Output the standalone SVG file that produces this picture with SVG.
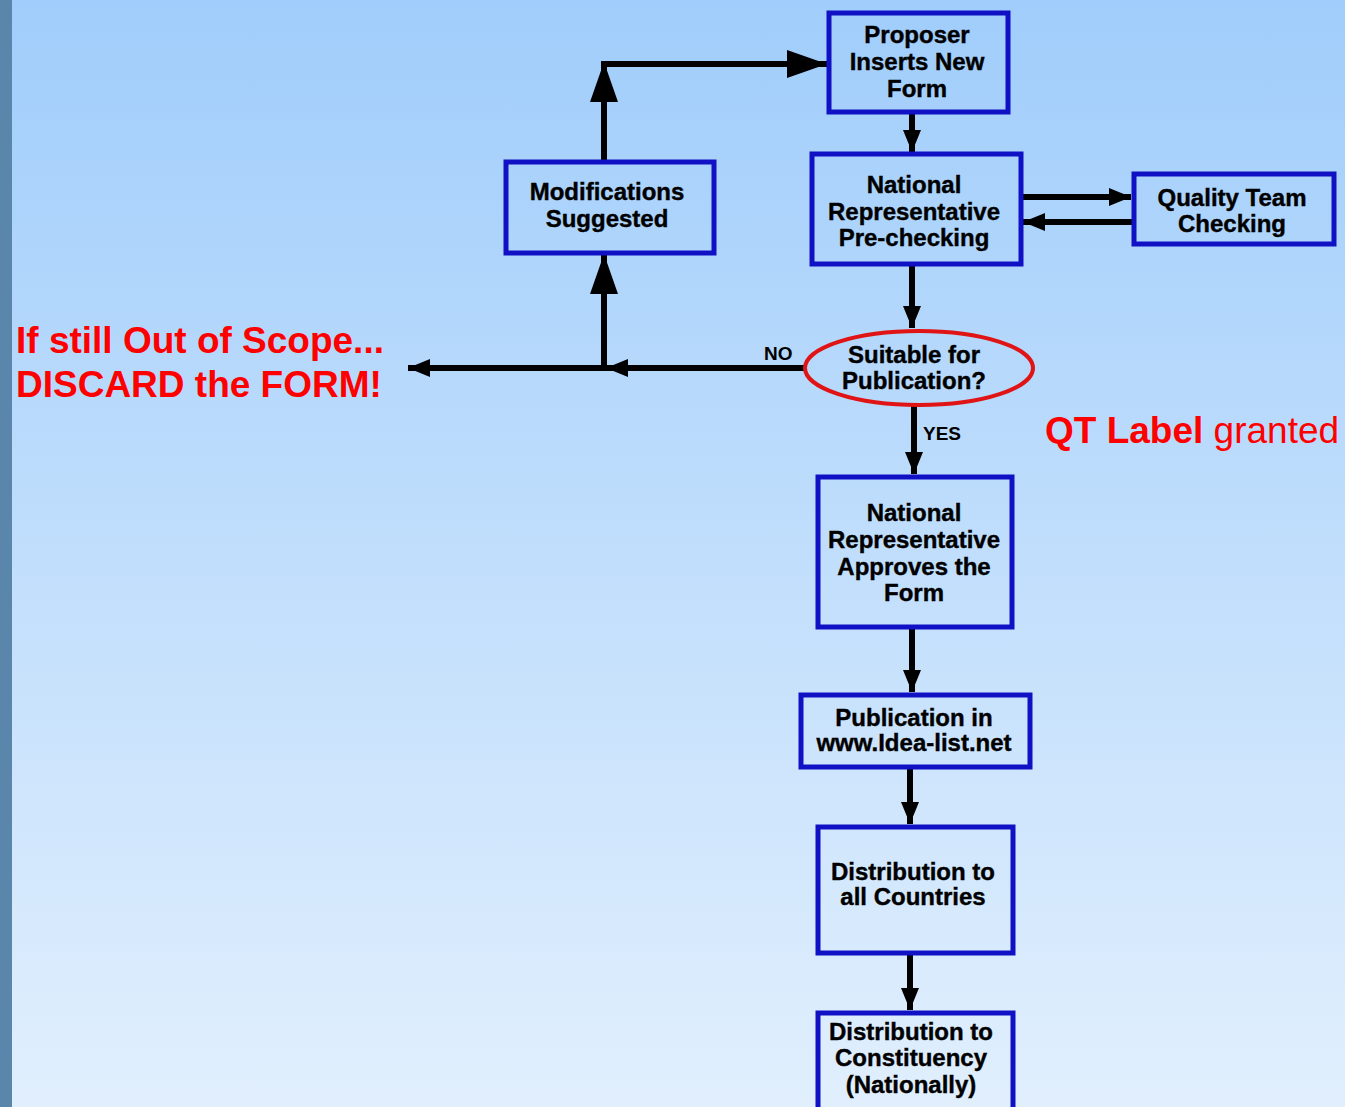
<svg xmlns="http://www.w3.org/2000/svg" width="1345" height="1107" viewBox="0 0 1345 1107">
<defs>
<linearGradient id="bg" x1="0" y1="0" x2="0" y2="1">
<stop offset="0" stop-color="#a0cdfb"/>
<stop offset="1" stop-color="#e1effd"/>
</linearGradient>
<marker id="sm" markerUnits="userSpaceOnUse" markerWidth="22" markerHeight="18" refX="22" refY="9" orient="auto">
<path d="M0,0 L22,9 L0,18 z" fill="#000"/>
</marker>
<marker id="bg1" markerUnits="userSpaceOnUse" markerWidth="40" markerHeight="28" refX="40" refY="14" orient="auto">
<path d="M0,0 L40,14 L0,28 z" fill="#000"/>
</marker>
<style>
.box{fill:none;stroke:#1010c4;stroke-width:5}
.t{font-family:"Liberation Sans",Arial,sans-serif;font-weight:bold;font-size:24px;fill:#000;stroke:#000;stroke-width:0.4;text-anchor:middle}
.s{font-family:"Liberation Sans",Arial,sans-serif;font-weight:bold;font-size:19px;fill:#000}
.c{fill:none;stroke:#000;stroke-width:6}
.red{font-family:"Liberation Sans",Arial,sans-serif;font-size:37px;fill:#ff0000}
</style>
</defs>
<rect x="0" y="0" width="1345" height="1107" fill="url(#bg)"/>
<rect x="0" y="0" width="12" height="1107" fill="#5a86ab"/>

<g id="connectors">
<path class="c" d="M604,162 V62" marker-end="url(#bg1)"/>
<path class="c" d="M601,64 H827" marker-end="url(#bg1)"/>
<path class="c" d="M912,112 V152" marker-end="url(#sm)"/>
<path class="c" d="M1021,197 H1131" marker-end="url(#sm)"/>
<path class="c" d="M1133,222 H1023" marker-end="url(#sm)"/>
<path class="c" d="M912,265 V328" marker-end="url(#sm)"/>
<path class="c" d="M805,368 H606" marker-end="url(#sm)"/>
<path class="c" d="M606,368 H408" marker-end="url(#sm)"/>
<path class="c" d="M604,371 V254" marker-end="url(#bg1)"/>
<path class="c" d="M914,405 V474" marker-end="url(#sm)"/>
<path class="c" d="M912,627 V692" marker-end="url(#sm)"/>
<path class="c" d="M910,767 V824" marker-end="url(#sm)"/>
<path class="c" d="M910,953 V1010" marker-end="url(#sm)"/>
<text class="s" x="764" y="360">NO</text>
<text class="s" x="923" y="440">YES</text>
</g>

<g id="proposer">
<rect class="box" x="829" y="13" width="179" height="99"/>
<text class="t" x="917" y="43">Proposer</text>
<text class="t" x="917" y="70">Inserts New</text>
<text class="t" x="917" y="97">Form</text>
</g>

<g id="modifications">
<rect class="box" x="506" y="162" width="208" height="91"/>
<text class="t" x="607" y="200">Modifications</text>
<text class="t" x="607" y="227">Suggested</text>
</g>

<g id="prechecking">
<rect class="box" x="812" y="154" width="209" height="110"/>
<text class="t" x="914" y="193">National</text>
<text class="t" x="914" y="220">Representative</text>
<text class="t" x="914" y="246">Pre-checking</text>
</g>

<g id="qualityteam">
<rect class="box" x="1134" y="174" width="200" height="70"/>
<text class="t" x="1232" y="206">Quality Team</text>
<text class="t" x="1232" y="232">Checking</text>
</g>

<g id="suitable">
<ellipse cx="919" cy="368" rx="114" ry="37" fill="none" stroke="#e01414" stroke-width="4"/>
<text class="t" x="914" y="363" font-size="22">Suitable for</text>
<text class="t" x="914" y="389" font-size="22">Publication?</text>
</g>

<g id="approves">
<rect class="box" x="818" y="477" width="194" height="150"/>
<text class="t" x="914" y="521">National</text>
<text class="t" x="914" y="548">Representative</text>
<text class="t" x="914" y="575">Approves the</text>
<text class="t" x="914" y="601">Form</text>
</g>

<g id="publication">
<rect class="box" x="801" y="695" width="229" height="72"/>
<text class="t" x="914" y="726">Publication in</text>
<text class="t" x="914" y="751">www.Idea-list.net</text>
</g>

<g id="distall">
<rect class="box" x="818" y="827" width="195" height="126"/>
<text class="t" x="913" y="880">Distribution to</text>
<text class="t" x="913" y="905">all Countries</text>
</g>

<g id="distconst">
<rect class="box" x="818" y="1013" width="195" height="100"/>
<text class="t" x="911" y="1040">Distribution to</text>
<text class="t" x="911" y="1066">Constituency</text>
<text class="t" x="911" y="1093">(Nationally)</text>
</g>

<g id="discard">
<text class="red" x="16" y="353" font-weight="bold">If still Out of Scope...</text>
<text class="red" x="16" y="397" font-weight="bold">DISCARD the FORM!</text>
</g>

<g id="qtlabel">
<text class="red" x="1045" y="443"><tspan font-weight="bold">QT Label</tspan> granted</text>
</g>
</svg>
